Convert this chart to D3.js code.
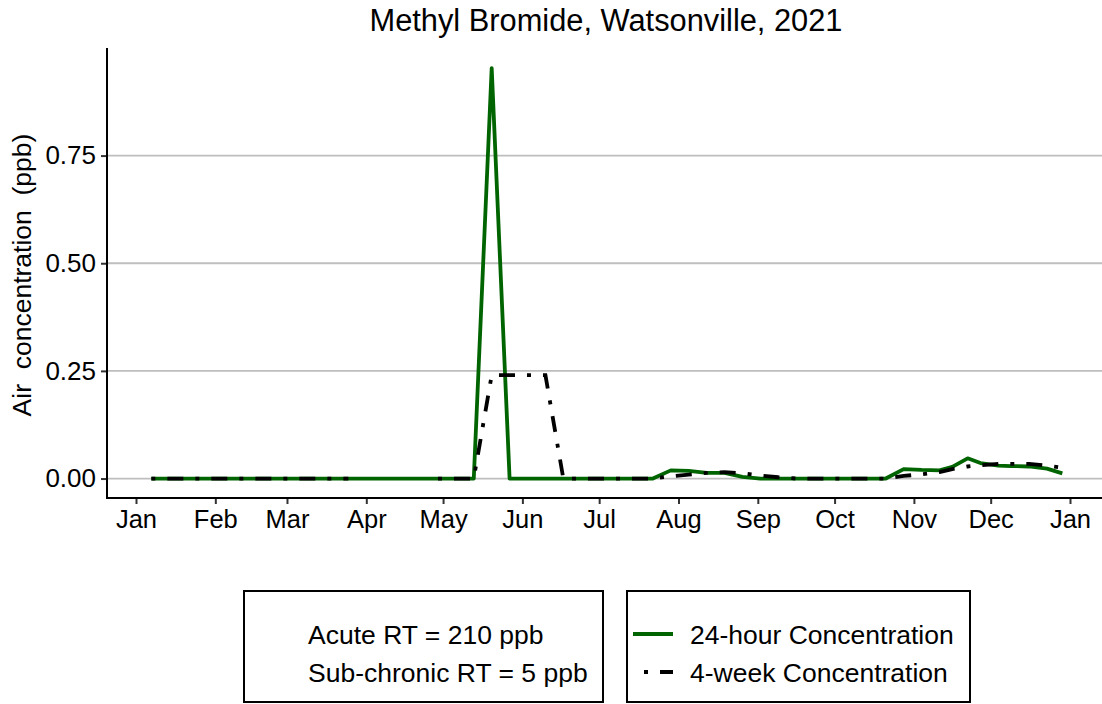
<!DOCTYPE html>
<html>
<head>
<meta charset="utf-8">
<script src="https://cdn.jsdelivr.net/npm/d3@7"></script>
<style>
  body { margin: 0; background: #fff; }
  text { font-family: "Liberation Sans", Arial, sans-serif; fill: #000; }
</style>
</head>
<body>
<div id="chart"></div>
<script>
// sample dates (weekly-ish) and the two series
var sampleDates = [
  "2021-01-07","2021-01-14","2021-01-21","2021-01-28","2021-02-04","2021-02-11","2021-02-18","2021-02-25",
  "2021-03-04","2021-03-11","2021-03-18","2021-03-25","2021-04-01","2021-04-08","2021-04-15","2021-04-22",
  "2021-04-29","2021-05-06","2021-05-13","2021-05-20","2021-05-27","2021-06-03","2021-06-10","2021-06-17",
  "2021-06-24","2021-07-01","2021-07-08","2021-07-15","2021-07-22","2021-07-29","2021-08-05","2021-08-12",
  "2021-08-19","2021-08-26","2021-09-02","2021-09-09","2021-09-16","2021-09-23","2021-09-30","2021-10-07",
  "2021-10-14","2021-10-21","2021-10-28","2021-11-04","2021-11-11","2021-11-16","2021-11-22","2021-11-27",
  "2021-12-04","2021-12-09","2021-12-16","2021-12-23","2021-12-29"
];

var conc24h = [
  0,0,0,0,0,0,0,0,0,0,0,0,0,0,0,0,0,0,0,
  0.953,
  0,0,0,0,0,0,0,0,0,
  0.019,0.018,0.013,0.013,0.004,
  0,0,0,0,0,0,0,0,
  0.022,0.020,0.019,0.027,0.047,0.036,0.030,0.029,0.028,0.023,0.012
];

var conc4wk = [
  0,0,0,0,0,0,0,0,0,0,0,0,
  null,null,null,null,
  0,0,0,
  0.24,0.24,0.24,0.24,
  0,0,0,0,0,0,
  0.005,0.009,0.013,0.015,0.012,0.007,0.003,
  0,0,0,0,0,0,
  0.006,0.010,0.015,0.022,0.028,0.031,0.034,0.034,0.034,0.030,0.025
];

var monthLabels = ["Jan","Feb","Mar","Apr","May","Jun","Jul","Aug","Sep","Oct","Nov","Dec","Jan"];
var yTicks = [0, 0.25, 0.5, 0.75];
var refLines = ["Acute RT = 210 ppb", "Sub-chronic RT = 5 ppb"];
var seriesNames = ["24-hour Concentration", "4-week Concentration"];

var svgWidth = 1102;
var svgHeight = 704;
var plotLeft = 107, plotBottom = 498, plotRight = 1102, plotTop = 48;
var fontFam = '"Liberation Sans", Arial, sans-serif';

var svg = d3.select("#chart")
  .append("svg")
  .attr("width", svgWidth)
  .attr("height", svgHeight);

var parse = d3.timeParse("%Y-%m-%d");
var rows = sampleDates.map(function(d, i) {
  return { date: parse(d), a: conc24h[i], b: conc4wk[i] };
});

var xScale = d3.scaleTime()
  .domain([new Date(2021, 0, 1), new Date(2022, 0, 1)])
  .range([136, 1070]);

var yScale = d3.scaleLinear()
  .domain([-0.0475, 0.9975])
  .range([499, 49]);

// gridlines
svg.append("g")
  .selectAll("line")
  .data(yTicks)
  .enter()
  .append("line")
  .attr("x1", plotLeft)
  .attr("x2", plotRight)
  .attr("y1", d => yScale(d))
  .attr("y2", d => yScale(d))
  .attr("stroke", "#bebebe")
  .attr("stroke-width", 1.8);

var tickDates = d3.timeMonth.range(new Date(2021, 0, 1), new Date(2022, 0, 2));

var xAxis = svg.append("g")
  .attr("transform", `translate(0, ${plotBottom})`)
  .call(d3.axisBottom(xScale)
    .tickValues(tickDates)
    .tickFormat((d, i) => monthLabels[i])
    .tickSize(6)
    .tickSizeOuter(0)
    .tickPadding(6));
xAxis.select(".domain").remove();
xAxis.selectAll(".tick line").attr("stroke", "#333").attr("stroke-width", 2);
xAxis.selectAll("text").style("font-size", "25.5px").attr("fill", "#000")
  .style("font-family", fontFam);

var yAxis = svg.append("g")
  .attr("transform", `translate(${plotLeft}, 0)`)
  .call(d3.axisLeft(yScale)
    .tickValues(yTicks)
    .tickFormat(d3.format(".2f"))
    .tickSize(6)
    .tickSizeOuter(0)
    .tickPadding(5));
yAxis.select(".domain").remove();
yAxis.selectAll(".tick line").attr("stroke", "#333").attr("stroke-width", 2);
yAxis.selectAll("text").style("font-size", "26px").attr("fill", "#000")
  .style("font-family", fontFam);

// axis lines
svg.append("line")
  .attr("x1", plotLeft).attr("x2", plotRight)
  .attr("y1", plotBottom).attr("y2", plotBottom)
  .attr("stroke", "#000").attr("stroke-width", 2);
svg.append("line")
  .attr("x1", plotLeft).attr("x2", plotLeft)
  .attr("y1", plotTop).attr("y2", plotBottom + 1)
  .attr("stroke", "#000").attr("stroke-width", 2);

var line24 = d3.line()
  .x(d => xScale(d.date))
  .y(d => yScale(d.a));

var line4 = d3.line()
  .defined(d => d.b !== null)
  .x(d => xScale(d.date))
  .y(d => yScale(d.b));

svg.append("path")
  .datum(rows)
  .attr("d", line24)
  .attr("fill", "none")
  .attr("stroke", "#006400")
  .attr("stroke-width", 3.8)
  .attr("stroke-linejoin", "round");

svg.append("path")
  .datum(rows)
  .attr("d", line4)
  .attr("fill", "none")
  .attr("stroke", "#000")
  .attr("stroke-width", 3.8)
  .attr("stroke-dasharray", "4,12,16,12");

// titles
svg.append("text")
  .attr("x", 606)
  .attr("y", 31)
  .attr("text-anchor", "middle")
  .style("font-size", "30.8px")
  .text("Methyl Bromide, Watsonville, 2021");

svg.append("text")
  .attr("transform", "rotate(-90)")
  .attr("x", -275)
  .attr("y", 31)
  .attr("text-anchor", "middle")
  .style("font-size", "26.5px")
  .style("white-space", "pre")
  .text("Air  concentration  (ppb)");

// legend boxes
var box1 = svg.append("g");
box1.append("rect")
  .attr("x", 244).attr("y", 591)
  .attr("width", 359).attr("height", 111)
  .attr("fill", "none").attr("stroke", "#000").attr("stroke-width", 2);
box1.selectAll("text")
  .data(refLines)
  .enter()
  .append("text")
  .attr("x", 308)
  .attr("y", (d, i) => 644 + i * 38)
  .style("font-size", "26.5px")
  .text(d => d);

var box2 = svg.append("g");
box2.append("rect")
  .attr("x", 627).attr("y", 591)
  .attr("width", 343).attr("height", 111)
  .attr("fill", "none").attr("stroke", "#000").attr("stroke-width", 2);
box2.append("line")
  .attr("x1", 633).attr("x2", 673)
  .attr("y1", 634).attr("y2", 634)
  .attr("stroke", "#006400").attr("stroke-width", 3.8);
box2.append("line")
  .attr("x1", 644).attr("x2", 673)
  .attr("y1", 672).attr("y2", 672)
  .attr("stroke", "#000").attr("stroke-width", 3.8)
  .attr("stroke-dasharray", "4,12,16,12");
box2.selectAll("text")
  .data(seriesNames)
  .enter()
  .append("text")
  .attr("x", 690)
  .attr("y", (d, i) => 644 + i * 38)
  .style("font-size", "26.5px")
  .text(d => d);
</script>
</body>
</html>
